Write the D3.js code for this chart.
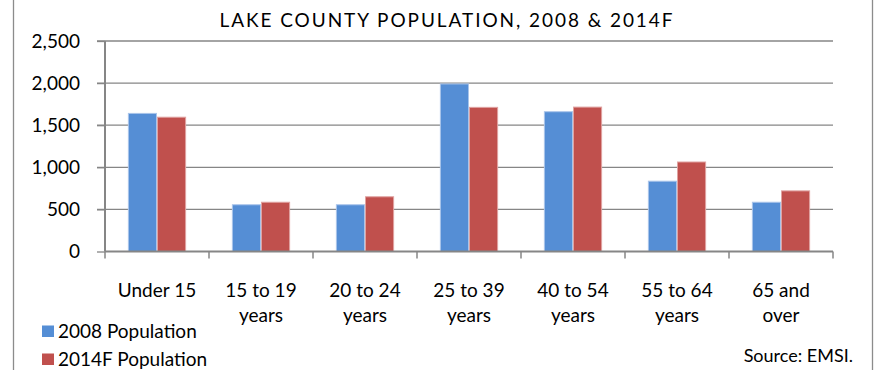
<!DOCTYPE html>
<html>
<head>
<meta charset="utf-8">
<script src="https://cdn.jsdelivr.net/npm/d3@7"></script>
<style>
  body { margin: 0; background: #fff; }
  svg { display: block; }
  text { font-family: Lato, "Open Sans", sans-serif; fill: #000; }
</style>
</head>
<body>
<svg id="chart" width="874" height="370"></svg>
<script>
const categories = ["Under 15", "15 to 19 years", "20 to 24 years", "25 to 39 years", "40 to 54 years", "55 to 64 years", "65 and over"];
const labelLines = [["Under 15"], ["15 to 19", "years"], ["20 to 24", "years"], ["25 to 39", "years"], ["40 to 54", "years"], ["55 to 64", "years"], ["65 and", "over"]];
const series = ["2008 Population", "2014F Population"];
const pop2008 = [1640, 555, 555, 1990, 1660, 835, 585];
const pop2014F = [1595, 585, 650, 1712, 1715, 1063, 720];
const yTicks = [0, 500, 1000, 1500, 2000, 2500];
const colors = ["#558ed5", "#c0504d"];
const edgeColors = ["#a9c4ea", "#e0a3a1"];
const title = "LAKE COUNTY POPULATION, 2008 & 2014F";
const source = "Source: EMSI.";

const svg = d3.select("#chart");
const plot = { left: 105, right: 833, top: 41, bottom: 251.5 };
const fs = 19;

// outer chart border
svg.append("line").attr("x1", 13.5).attr("x2", 13.5).attr("y1", 0).attr("y2", 370).attr("stroke", "#8c8c8c").attr("stroke-width", 1.3);
svg.append("line").attr("x1", 872.5).attr("x2", 872.5).attr("y1", 0).attr("y2", 370).attr("stroke", "#8c8c8c").attr("stroke-width", 1.3);

const x0 = d3.scaleBand().domain(categories).range([plot.left, plot.right]).paddingInner(0.44).paddingOuter(0.22);
const x1 = d3.scaleBand().domain(series).range([0, x0.bandwidth()]);
const y = d3.scaleLinear().domain([0, 2500]).range([plot.bottom, plot.top]);

// gridlines
svg.append("g").selectAll("line").data(yTicks.filter(d => d > 0)).join("line")
  .attr("x1", plot.left - 8).attr("x2", plot.right)
  .attr("y1", d => y(d)).attr("y2", d => y(d))
  .attr("stroke", "#868686").attr("stroke-width", 1.3);

// y tick labels
const yAxis = svg.append("g").attr("transform", `translate(${plot.left},0)`)
  .call(d3.axisLeft(y).tickValues(yTicks).tickFormat(d3.format(",")).tickSize(8).tickPadding(17));
yAxis.select(".domain").remove();
yAxis.selectAll(".tick line").attr("stroke", "#868686").attr("stroke-width", 1.3);
yAxis.selectAll(".tick text").attr("font-size", fs).attr("font-family", "Lato, 'Open Sans', sans-serif").attr("fill", "#000");

// bars
const data = categories.map((c, i) => ({ cat: c, vals: [pop2008[i], pop2014F[i]] }));
const groups = svg.append("g").selectAll("g").data(data).join("g")
  .attr("transform", d => `translate(${x0(d.cat)},0)`);
groups.selectAll("rect").data(d => d.vals.map((v, j) => ({ v, j }))).join("rect")
  .attr("x", d => x1(series[d.j]) + 0.5)
  .attr("width", x1.bandwidth() - 1)
  .attr("y", d => y(d.v))
  .attr("height", d => y(0) - y(d.v))
  .attr("fill", d => colors[d.j])
  .attr("stroke", d => edgeColors[d.j]).attr("stroke-width", 1);

// x axis
const boundaries = d3.range(categories.length + 1).map(i => plot.left + i * (plot.right - plot.left) / categories.length);
svg.append("line").attr("x1", plot.left).attr("x2", plot.right).attr("y1", plot.bottom).attr("y2", plot.bottom)
  .attr("stroke", "#868686").attr("stroke-width", 2);
svg.append("line").attr("x1", plot.left).attr("x2", plot.left).attr("y1", plot.top).attr("y2", plot.bottom)
  .attr("stroke", "#868686").attr("stroke-width", 2);
svg.append("g").selectAll("line").data(boundaries).join("line")
  .attr("x1", d => d).attr("x2", d => d).attr("y1", plot.bottom).attr("y2", plot.bottom + 7)
  .attr("stroke", "#868686").attr("stroke-width", 1.5);

// x labels
const xl = svg.append("g").selectAll("text").data(data).join("text")
  .attr("x", d => x0(d.cat) + x0.bandwidth() / 2)
  .attr("y", 297)
  .attr("text-anchor", "middle").attr("font-size", fs);
xl.each(function(d, i) {
  const t = d3.select(this);
  labelLines[i].forEach((line, k) => {
    t.append("tspan").attr("x", x0(d.cat) + x0.bandwidth() / 2).attr("dy", k === 0 ? 0 : 25).text(line);
  });
});

// title
svg.append("text").attr("x", 446).attr("y", 27).attr("text-anchor", "middle")
  .attr("font-size", fs).attr("textLength", 453).attr("lengthAdjust", "spacing").text(title);

// legend
const legend = svg.append("g").selectAll("g").data(series).join("g")
  .attr("transform", (d, i) => `translate(42,${325.5 + i * 28})`);
legend.append("rect").attr("width", 12).attr("height", 11.5).attr("fill", (d, i) => colors[i]);
legend.append("text").attr("x", 16).attr("y", 12).attr("font-size", fs).text(d => d);

// source
svg.append("text").attr("x", 853).attr("y", 362).attr("text-anchor", "end").attr("font-size", fs - 1).text(source);
</script>
</body>
</html>
